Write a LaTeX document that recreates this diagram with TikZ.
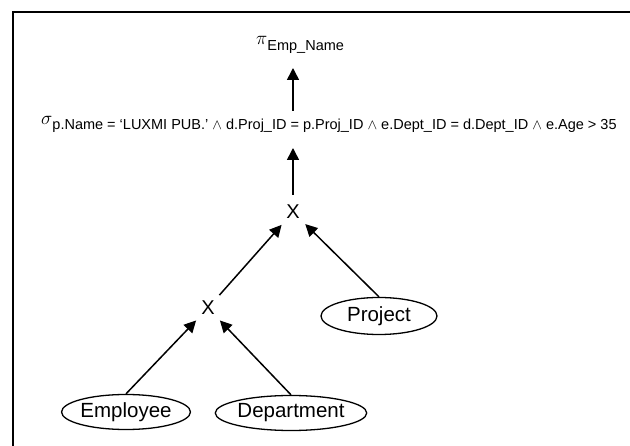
\documentclass[tikz,border=0pt]{standalone}
\usepackage{fix-cm}
\usepackage{fontspec}
\setmainfont{Liberation Sans}
\usetikzlibrary{arrows.meta,shapes.geometric}
\tikzset{
  rel/.style={draw, ellipse, line width=1.3pt, inner sep=0pt, font=\fontsize{20.5}{24}\selectfont},
  opx/.style={circle, inner sep=0pt, minimum size=34pt, font=\fontsize{20}{24}\selectfont},
  conn/.style={line width=1.5pt, -{Triangle[length=12pt,width=12pt]}},
  frame/.style={line width=1.5pt},
  subs/.style={font=\fontsize{14.5}{17}\selectfont}
}
\begin{document}
\begin{tikzpicture}[x=1pt,y=-1pt]
\useasboundingbox (0,0) rectangle (630,446);
\draw[frame] (13,446) -- (13,12) -- (630,12);
% relations
\node[rel, minimum width=125pt, minimum height=35pt] (emp) at (126,412) {Employee};
\node[rel, minimum width=146pt, minimum height=35pt] (dept) at (291,413) {Department};
\node[rel, minimum width=116pt, minimum height=37pt] (proj) at (379,316) {Project};
% products
\node[opx] (lx) at (208,308) {X};
\node[opx] (ux) at (293,212) {X};
% selection and projection
\node[anchor=base west, inner sep=0pt] (sig) at (41,125)
  {\fontsize{19}{22}\selectfont$\sigma$\raisebox{-5pt}{\fontsize{14.5}{17}\selectfont p.Name = ‘LUXMI PUB.’ $\wedge$ d.Proj\_ID = p.Proj\_ID $\wedge$ e.Dept\_ID = d.Dept\_ID $\wedge$ e.Age > 35}};
\node[anchor=base west, inner sep=0pt] (pi) at (256,45)
  {\fontsize{19}{22}\selectfont$\pi$\raisebox{-6pt}{\fontsize{14.5}{17}\selectfont Emp\_Name}};
\coordinate (sigbot) at (293,148);
\coordinate (sigtop) at (293,111);
\coordinate (pibot) at (293,68);
% connectors
\draw[conn] (emp.north) -- (lx);
\draw[conn] (dept.north) -- (lx);
\draw[conn] (lx) -- (ux);
\draw[conn] (proj.north) -- (ux);
\draw[conn] (ux) -- (sigbot);
\draw[conn] (sigtop) -- (pibot);
\end{tikzpicture}
\end{document}
